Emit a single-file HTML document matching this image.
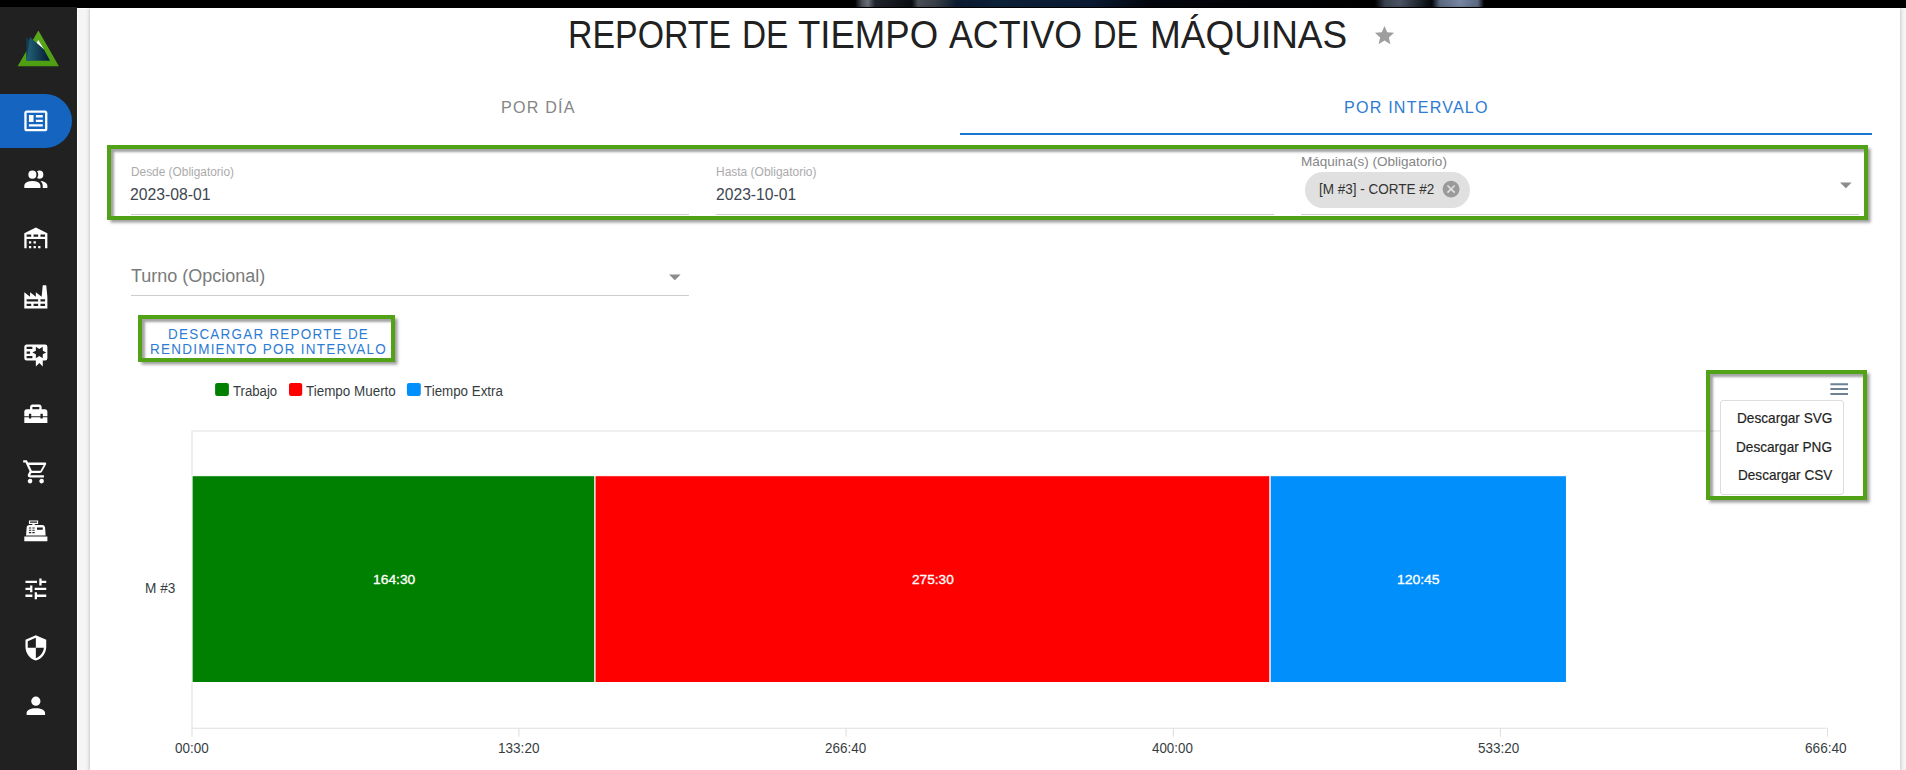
<!DOCTYPE html>
<html lang="es"><head><meta charset="utf-8"><title>Reporte de tiempo activo de máquinas</title>
<style>
html,body{margin:0;padding:0}
body{width:1906px;height:770px;overflow:hidden;position:relative;background:#f5f5f5;font-family:"Liberation Sans", sans-serif}
.a{position:absolute;display:block}
.t{position:absolute;white-space:nowrap;line-height:1}
.dl{-webkit-text-stroke:.32px #fff}
.mi{-webkit-text-stroke:.2px #1f1f1f}
.hl{position:absolute;border:4px solid #51a216;box-sizing:border-box;box-shadow:2.5px 2.5px 3px rgba(0,0,0,.4), inset 3px 3px 2.5px rgba(0,0,0,.37)}
</style></head><body>
<!-- top strip -->
<div class="a" style="left:0;top:0;width:1906px;height:8px;background:#000"></div>
<div class="a" style="left:0;top:0;width:1906px;height:7px;background:linear-gradient(90deg,#000 855px,#4a4f58 862px,#6a6f78 868px,#20252c 875px,#0a0d12 912px,#4a4e55 918px,#3a3f48 935px,#0b1a30 957px,#0c2038 1000px,#0a1a33 1090px,#03060c 1150px,#000 1375px,#3a4250 1385px,#4a5362 1400px,#20262f 1419px,#05070b 1432px,#5a6880 1440px,#7686a3 1460px,#5a6880 1478px,#000 1484px)"></div>
<!-- sidebar -->
<div class="a" style="left:0;top:7px;width:77px;height:763px;background:#212121"></div>
<div class="a" style="left:-30px;top:94px;width:102px;height:54px;border-radius:27px;background:#1565c0"></div>
<svg class="a" style="left:14px;top:26px" width="50" height="44" viewBox="14 26 50 44">
<defs><linearGradient id="lg" x1="0" x2="1" y1="0" y2="0"><stop offset="0" stop-color="#22637a"/><stop offset="1" stop-color="#041a33"/></linearGradient>
<linearGradient id="gg" x1="0" x2="0" y1="0" y2="1"><stop offset="0" stop-color="#5aaa1c"/><stop offset="1" stop-color="#4f9d12"/></linearGradient></defs>
<path fill="url(#gg)" d="M38.4 30.6L58.9 66.2H17.6Z"/>
<path fill="#fff" d="M38.3 40.1L44.2 49.8L36.5 43Z"/>
<path fill="#133f55" d="M26.3 37L30.4 42V60.6H26.3Z"/>
<path fill="url(#lg)" d="M29.95 37.1L44 49.55L50 60.65H26.6Z"/>
</svg>
<!-- card -->
<div class="a" style="left:77px;top:8px;width:1px;height:762px;background:#fff"></div>
<div class="a" style="left:77px;top:8px;width:13px;height:1px;background:#fff"></div>
<div class="a" style="left:90px;top:8px;width:1810px;height:800px;background:#fff;box-shadow:0 0 4px rgba(0,0,0,.28)"></div>
<!-- tabs underline -->
<div class="a" style="left:960px;top:133px;width:912px;height:2px;background:#1976d2"></div>
<!-- field underlines -->
<div class="a" style="left:131px;top:214px;width:558px;height:1px;background:#cdcdcd"></div>
<div class="a" style="left:716px;top:214px;width:558px;height:1px;background:#cdcdcd"></div>
<div class="a" style="left:1301px;top:214px;width:558px;height:1px;background:#cdcdcd"></div>
<div class="a" style="left:131px;top:295px;width:558px;height:1px;background:#cdcdcd"></div>
<!-- chip -->
<div class="a" style="left:1305px;top:172px;width:165px;height:36px;border-radius:18px;background:#e0e0e0"></div>
<!-- chart -->
<svg class="a" style="left:0;top:0" width="1906" height="770" viewBox="0 0 1906 770">
<g stroke="#e0e0e0" stroke-width="1.1" fill="none">
<path d="M191.45 431H1827M192 430.45V728.75M191.45 728.2H1826.6"/>
<path d="M192.0 728.2V736.8M518.9 728.2V736.8M846.1 728.2V736.8M1173.4 728.2V736.8M1500.4 728.2V736.8M1827.5 728.2V736.8"/>
</g>
<rect x="215.1" y="382.9" width="13.8" height="13.1" rx="2.2" fill="#008000"/>
<rect x="289" y="382.9" width="13.2" height="13.1" rx="2.2" fill="#ff0000"/>
<rect x="406.9" y="382.9" width="13.9" height="13.1" rx="2.2" fill="#008ffb"/>
<path fill="#6e8192" d="M1830.4 383.3h17.6v1.85h-17.6zM1830.4 388.1h17.6v1.85h-17.6zM1830.4 393.05h17.6v1.85h-17.6z"/>
<g stroke="#fff" stroke-width="1.1">
<rect x="192.05" y="475.65" width="402.95" height="206.9" fill="#008000"/>
<rect x="595" y="475.65" width="675.1" height="206.9" fill="#ff0000"/>
<rect x="1270.1" y="475.65" width="296.4" height="206.9" fill="#008ffb"/>
</g>
</svg>
<!-- export menu -->
<div class="a" style="left:1720px;top:400px;width:124px;height:95px;box-sizing:border-box;border:1px solid #ddd;border-radius:3px;background:#fff"></div>
<!-- annotation rectangles -->
<div class="hl" style="left:107px;top:145px;width:1761px;height:75px"></div>
<div class="hl" style="left:138px;top:315px;width:257px;height:47px"></div>
<div class="hl" style="left:1706px;top:370px;width:161px;height:130px"></div>
<svg class="a" style="left:22.15px;top:107.1px" width="27.7" height="27.7" viewBox="0 0 24 24"><path fill="#fff" d="M20 5L20 19L4 19L4 5H20M20 3H4C2.89 3 2 3.89 2 5V19C2 20.11 2.89 21 4 21H20C21.11 21 22 20.11 22 19V5C22 3.89 21.11 3 20 3M18 15H6V17H18V15M10 7H6V13H10V7M12 9H18V7H12V9M18 11H12V13H18V11Z"/></svg>
<svg class="a" style="left:22.15px;top:165.62px" width="27.7" height="27.7" viewBox="0 0 24 24"><path fill="#fff" d="M16 17V19H2V17S2 13 9 13 16 17 16 17M12.5 7.5A3.5 3.5 0 1 0 9 11A3.5 3.5 0 0 0 12.5 7.5M15.94 13A5.32 5.32 0 0 1 18 17V19H22V17S22 13.37 15.94 13M15 4A3.39 3.39 0 0 0 13.07 4.59A5 5 0 0 1 13.07 10.41A3.39 3.39 0 0 0 15 11A3.5 3.5 0 0 0 15 4Z"/></svg>
<svg class="a" style="left:22.15px;top:224.14px" width="27.7" height="27.7" viewBox="0 0 24 24"><path fill="#fff" d="M6 19H8V21H6V19M12 3L2 8V21H4V13H20V21H22V8L12 3M8 11H4V9H8V11M14 11H10V9H14V11M20 11H16V9H20V11M6 15H8V17H6V15M10 15H12V17H10V15M10 19H12V21H10V19M14 19H16V21H14V19Z"/></svg>
<svg class="a" style="left:22.15px;top:282.66px" width="27.7" height="27.7" viewBox="0 0 24 24"><path fill="#fff" d="M4,18V20H8V18H4M4,14V16H14V14H4M10,18V20H14V18H10M16,14V16H20V14H16M16,18V20H20V18H16M2,22V8L7,12V8L12,12V8L17,12L18,2H21L22,12V22H2Z"/></svg>
<svg class="a" style="left:22.15px;top:341.18px" width="27.7" height="27.7" viewBox="0 0 24 24"><path fill="#fff" d="M4,3C2.89,3 2,3.89 2,5V15A2,2 0 0,0 4,17H12V22L15,19L18,22V17H20A2,2 0 0,0 22,15V8L22,6V5A2,2 0 0,0 20,3H16V3H4M12,5L15,7L18,5V8.5L21,10L18,11.5V15L15,13L12,15V11.5L9,10L12,8.5V5M4,5H9V7H4V5M4,9H7V11H4V9M4,13H9V15H4V13Z"/></svg>
<svg class="a" style="left:22.15px;top:399.7px" width="27.7" height="27.7" viewBox="0 0 24 24"><path fill="#fff" d="M18 16H16V15H8V16H6V15H2V20H22V15H18V16M20 8H17V6C17 4.9 16.1 4 15 4H9C7.9 4 7 4.9 7 6V8H4C2.9 8 2 8.9 2 10V14H6V12H8V14H16V12H18V14H22V10C22 8.9 21.1 8 20 8M15 8H9V6H15V8Z"/></svg>
<svg class="a" style="left:22.15px;top:458.22px" width="27.7" height="27.7" viewBox="0 0 24 24"><path fill="#fff" d="M17,18A2,2 0 0,1 19,20A2,2 0 0,1 17,22C15.89,22 15,21.1 15,20C15,18.89 15.89,18 17,18M1,2H4.27L5.21,4H20A1,1 0 0,1 21,5C21,5.17 20.95,5.34 20.88,5.5L17.3,11.97C16.96,12.58 16.3,13 15.55,13H8.1L7.2,14.63L7.17,14.75A0.25,0.25 0 0,0 7.42,15H19V17H7C5.89,17 5,16.1 5,15C5,14.65 5.09,14.32 5.24,14.04L6.6,11.59L3,4H1V2M7,18A2,2 0 0,1 9,20A2,2 0 0,1 7,22C5.89,22 5,21.1 5,20C5,18.89 5.89,18 7,18M16,11L18.78,6H6.14L8.5,11H16Z"/></svg>
<svg class="a" style="left:22.15px;top:516.74px" width="27.7" height="27.7" viewBox="0 0 24 24"><path fill="#fff" d="M2,17H22V21H2V17M6.25,7H9V6H6V3H14V6H11V7H17.8C18.8,7 19.8,8 20,9L20.5,16H3.5L4.05,9C4.05,8 5.05,7 6.25,7M13,9V11H18V9H13M6,9V10H8V9H6M9,9V10H11V9H9M6,11V12H8V11H6M9,11V12H11V11H9M6,13V14H8V13H6M9,13V14H11V13H9M7,4V5H13V4H7Z"/></svg>
<svg class="a" style="left:22.15px;top:575.26px" width="27.7" height="27.7" viewBox="0 0 24 24"><path fill="#fff" d="M3,17V19H9V17H3M3,5V7H13V5H3M13,21V19H21V17H13V15H11V21H13M7,9V11H3V13H7V15H9V9H7M21,13V11H11V13H21M15,9H17V7H21V5H17V3H15V9Z"/></svg>
<svg class="a" style="left:22.15px;top:633.78px" width="27.7" height="27.7" viewBox="0 0 24 24"><path fill="#fff" d="M12,12H19C18.47,16.11 15.72,19.78 12,20.92V12H5V6.3L12,3.19M12,1L3,5V11C3,16.55 6.84,21.73 12,23C17.16,21.73 21,16.55 21,11V5L12,1Z"/></svg>
<svg class="a" style="left:22.15px;top:692.3px" width="27.7" height="27.7" viewBox="0 0 24 24"><path fill="#fff" d="M12,4A4,4 0 0,1 16,8A4,4 0 0,1 12,12A4,4 0 0,1 8,8A4,4 0 0,1 12,4M12,14C16.42,14 20,15.79 20,18V20H4V18C4,15.79 7.58,14 12,14Z"/></svg>
<svg class="a" style="left:1373.1px;top:24.0px" width="23" height="23" viewBox="0 0 24 24"><path fill="#9e9e9e" d="M12,17.27L18.18,21L16.54,13.97L22,9.24L14.81,8.62L12,2L9.19,8.62L2,9.24L7.45,13.97L5.82,21L12,17.27Z"/></svg>
<svg class="a" style="left:1831.8px;top:170.8px" width="27.7" height="27.7" viewBox="0 0 24 24"><path fill="#8c8c8c" d="M7,10L12,15L17,10H7Z"/></svg>
<svg class="a" style="left:661.45px;top:262.9px" width="27.7" height="27.7" viewBox="0 0 24 24"><path fill="#8c8c8c" d="M7,10L12,15L17,10H7Z"/></svg>
<svg class="a" style="left:1440.5px;top:179.3px" width="20.2" height="20.2" viewBox="0 0 24 24"><path fill="#9a9a9a" d="M12,2C17.53,2 22,6.47 22,12C22,17.53 17.53,22 12,22C6.47,22 2,17.53 2,12C2,6.47 6.47,2 12,2M15.59,7L12,10.59L8.41,7L7,8.41L10.59,12L7,15.59L8.41,17L12,13.41L15.59,17L17,15.59L13.41,12L17,8.41L15.59,7Z"/></svg>
<div class="t title" style="top:16px;font-size:38.0px;color:#212121;left:568.23px;transform:scaleX(0.8911);transform-origin:0 0;">REPORTE</div>
<div class="t title" style="top:16px;font-size:38.0px;color:#212121;left:742.07px;transform:scaleX(0.8776);transform-origin:0 0;">DE</div>
<div class="t title" style="top:16px;font-size:38.0px;color:#212121;left:798.24px;transform:scaleX(0.9615);transform-origin:0 0;">TIEMPO</div>
<div class="t title" style="top:16px;font-size:38.0px;color:#212121;left:949.30px;transform:scaleX(0.9407);transform-origin:0 0;">ACTIVO</div>
<div class="t title" style="top:16px;font-size:38.0px;color:#212121;left:1093.43px;transform:scaleX(0.8551);transform-origin:0 0;">DE</div>
<div class="t title" style="top:16px;font-size:38.0px;color:#212121;left:1150.38px;transform:scaleX(0.9727);transform-origin:0 0;">MÁQUINAS</div>
<div class="t tab1" style="top:99px;font-size:16.2px;color:#858585;letter-spacing:1.2px;left:500.80px;transform:scaleX(0.9959);transform-origin:0 0;">POR DÍA</div>
<div class="t tab2" style="top:99px;font-size:16.2px;color:#2c7bd4;letter-spacing:1.2px;left:1343.70px;transform:scaleX(0.9951);transform-origin:0 0;">POR INTERVALO</div>
<div class="t l1" style="top:166px;font-size:12px;color:#ababab;left:130.71px;transform:scaleX(0.9893);transform-origin:0 0;">Desde (Obligatorio)</div>
<div class="t v1" style="top:187px;font-size:16.8px;color:#404650;left:129.66px;transform:scaleX(0.9381);transform-origin:0 0;">2023-08-01</div>
<div class="t l2" style="top:166px;font-size:12px;color:#ababab;left:715.80px;transform:scaleX(0.9980);transform-origin:0 0;">Hasta (Obligatorio)</div>
<div class="t v2" style="top:187px;font-size:16.8px;color:#404650;left:715.97px;transform:scaleX(0.9333);transform-origin:0 0;">2023-10-01</div>
<div class="t l3" style="top:155px;font-size:13.4px;color:#858585;left:1301.09px;transform:scaleX(1.0105);transform-origin:0 0;">Máquina(s) (Obligatorio)</div>
<div class="t chip" style="top:182px;font-size:14.2px;color:#333;left:1319.35px;transform:scaleX(0.9517);transform-origin:0 0;">[M #3] - CORTE #2</div>
<div class="t turno" style="top:268px;font-size:17.6px;color:#7a7a7a;left:131.40px;transform:scaleX(1.0221);transform-origin:0 0;">Turno (Opcional)</div>
<div class="t b1" style="top:326px;font-size:15.0px;color:#2c7bd4;letter-spacing:1.4px;left:167.90px;transform:scaleX(0.8959);transform-origin:0 0;">DESCARGAR REPORTE DE</div>
<div class="t b2" style="top:341px;font-size:15.0px;color:#2c7bd4;letter-spacing:1.4px;left:149.90px;transform:scaleX(0.8973);transform-origin:0 0;">RENDIMIENTO POR INTERVALO</div>
<div class="t lg1" style="top:384px;font-size:14.0px;color:#373d3f;left:233.00px;transform:scaleX(0.9404);transform-origin:0 0;">Trabajo</div>
<div class="t lg2" style="top:384px;font-size:14.0px;color:#373d3f;left:306.40px;transform:scaleX(0.9591);transform-origin:0 0;">Tiempo Muerto</div>
<div class="t lg3" style="top:384px;font-size:14.0px;color:#373d3f;left:424.40px;transform:scaleX(0.9542);transform-origin:0 0;">Tiempo Extra</div>
<div class="t m1 mi" style="top:411px;font-size:14.4px;color:#1f1f1f;left:1737.05px;transform:scaleX(0.9475);transform-origin:0 0;">Descargar SVG</div>
<div class="t m2 mi" style="top:440px;font-size:14.4px;color:#1f1f1f;left:1736.36px;transform:scaleX(0.9450);transform-origin:0 0;">Descargar PNG</div>
<div class="t m3 mi" style="top:468px;font-size:14.4px;color:#1f1f1f;left:1737.96px;transform:scaleX(0.9434);transform-origin:0 0;">Descargar CSV</div>
<div class="t ylab" style="top:581px;font-size:14.0px;color:#373d3f;left:144.63px;transform:scaleX(0.9733);transform-origin:0 0;">M #3</div>
<div class="t d1 dl" style="top:573px;font-size:13.6px;color:#fff;left:372.68px;transform:scaleX(1.0175);transform-origin:0 0;">164:30</div>
<div class="t d2 dl" style="top:573px;font-size:13.6px;color:#fff;left:912.10px;transform:scaleX(1.0049);transform-origin:0 0;">275:30</div>
<div class="t d3 dl" style="top:573px;font-size:13.6px;color:#fff;left:1397.17px;transform:scaleX(1.0250);transform-origin:0 0;">120:45</div>
<div class="t x0" style="top:741px;font-size:14.1px;color:#373d3f;left:174.80px;transform:scaleX(0.9543);transform-origin:0 0;">00:00</div>
<div class="t x1" style="top:741px;font-size:14.1px;color:#373d3f;left:497.64px;transform:scaleX(0.9619);transform-origin:0 0;">133:20</div>
<div class="t x2" style="top:741px;font-size:14.1px;color:#373d3f;left:824.80px;transform:scaleX(0.9558);transform-origin:0 0;">266:40</div>
<div class="t x3" style="top:741px;font-size:14.1px;color:#373d3f;left:1151.70px;transform:scaleX(0.9465);transform-origin:0 0;">400:00</div>
<div class="t x4" style="top:741px;font-size:14.1px;color:#373d3f;left:1478.40px;transform:scaleX(0.9558);transform-origin:0 0;">533:20</div>
<div class="t x5" style="top:741px;font-size:14.1px;color:#373d3f;left:1804.80px;transform:scaleX(0.9674);transform-origin:0 0;">666:40</div>
</body></html>
